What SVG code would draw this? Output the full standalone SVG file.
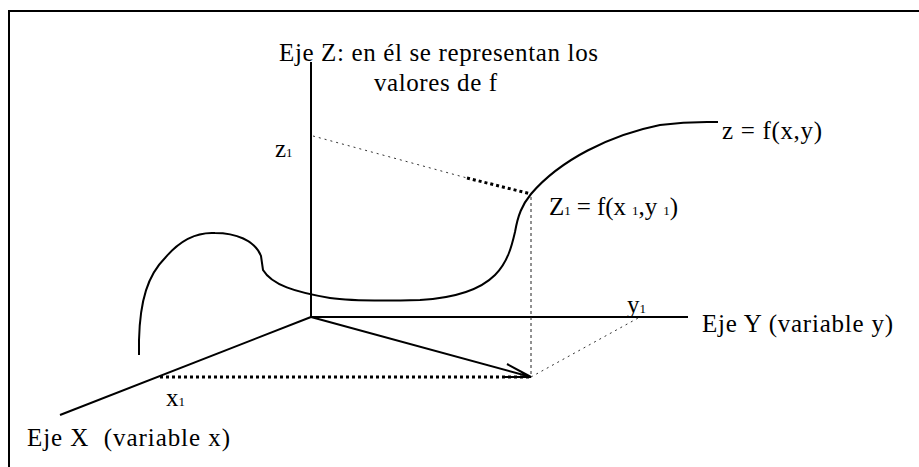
<svg xmlns="http://www.w3.org/2000/svg" width="919" height="467" viewBox="0 0 919 467">
<style>
.t{font-family:'Liberation Serif','DejaVu Serif',serif;font-size:25px;fill:#000}
.sub{font-size:13px}
.ax{stroke:#000;stroke-width:2;fill:none}
.thin{stroke:#333;stroke-width:1;stroke-dasharray:2 4;fill:none}
.dash{stroke:#222;stroke-width:1;stroke-dasharray:3 3;fill:none}
.thick{stroke:#000;stroke-width:3;stroke-dasharray:3 3;fill:none}
</style>
<rect width="919" height="467" fill="#fff"/>
<path class="ax" d="M9,467 V11 H919"/>
<g id="connectors">
<path id="z-axis" class="ax" d="M311,62 V317"/>
<path id="y-axis" class="ax" d="M311,317 H688"/>
<path id="x-axis" class="ax" d="M311,317 L60,415"/>
<path id="vector" class="ax" d="M311,317 L531,377 M507,364 L531,377 L503,377"/>
<path id="x1-line" class="thick" d="M160,377 H531"/>
<path id="y1-line" class="thin" d="M531,377 L640,317"/>
<path id="vert" class="dash" d="M531,197 V377"/>
<path id="z1-thin" class="thin" d="M313,136 L467,178"/>
<path id="z1-thick" class="thick" d="M467,178 L531,194"/>
</g>
<g id="surface">
<path class="ax" d="M139,355 L139,340 C140,300 148,275 165,258 C180,240 198,232 215,233 C235,233 255,240 261,256 L263,270 C272,285 295,292 330,298 C350,301 380,301 420,300 C455,298 480,290 495,275 C508,262 512,245 515,232 C518,215 522,205 531,194 C560,160 610,135 660,125 C690,121 705,122 718,122"/>
</g>
<g id="labels" font-family="'Liberation Serif','DejaVu Serif',serif">
<text class="t" x="279" y="61" textLength="319" lengthAdjust="spacing">Eje Z: en él se representan los</text>
<text class="t" x="374" y="91" textLength="123" lengthAdjust="spacing">valores de f</text>
<text class="t" x="722" y="139" textLength="100" lengthAdjust="spacing">z = f(x,y)</text>
<text class="t" x="549" y="215" textLength="129" lengthAdjust="spacing">Z<tspan class="sub">1</tspan> = f(x <tspan class="sub">1</tspan>,y <tspan class="sub">1</tspan>)</text>
<text class="t" x="275" y="157">z<tspan class="sub">1</tspan></text>
<text class="t" x="627" y="313">y<tspan class="sub">1</tspan></text>
<text class="t" x="702" y="332" textLength="191" lengthAdjust="spacing">Eje Y (variable y)</text>
<text class="t" x="166" y="406">x<tspan class="sub">1</tspan></text>
<text class="t" x="27" y="446" textLength="203" lengthAdjust="spacing" xml:space="preserve">Eje X  (variable x)</text>
</g>
</svg>
